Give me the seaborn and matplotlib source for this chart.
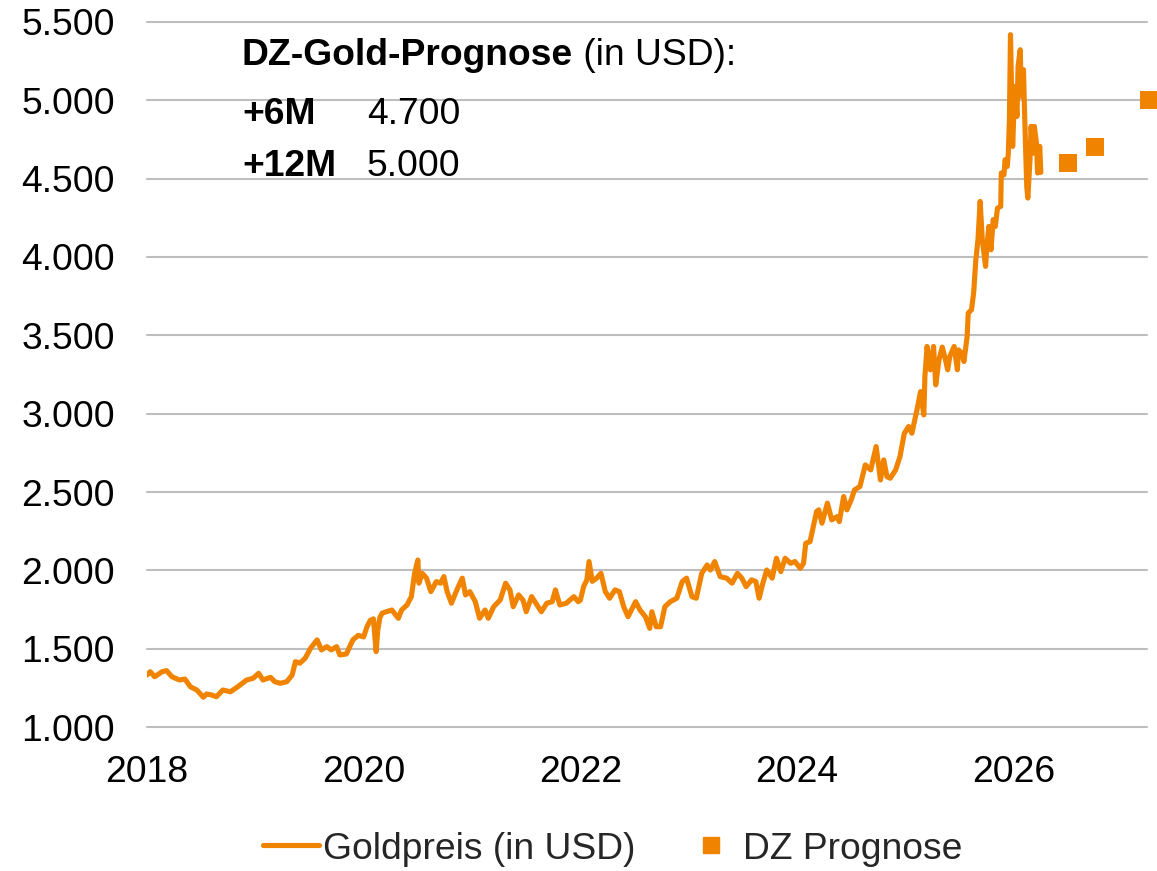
import matplotlib
matplotlib.use("Agg")
import matplotlib.pyplot as plt
import seaborn as sns
import pandas as pd
from matplotlib.ticker import FuncFormatter, FixedLocator
from matplotlib.lines import Line2D

# ---------------- data ----------------
dates = [
    2018.00, 2018.03, 2018.07, 2018.14, 2018.18, 2018.23, 2018.30, 2018.35, 2018.40, 2018.46,
    2018.52, 2018.55, 2018.60, 2018.64, 2018.70, 2018.77, 2018.83, 2018.92, 2018.98, 2019.03,
    2019.07, 2019.14, 2019.18, 2019.23, 2019.29, 2019.34, 2019.37, 2019.41, 2019.46, 2019.51,
    2019.57, 2019.61, 2019.66, 2019.70, 2019.75, 2019.78, 2019.84, 2019.90, 2019.95, 2020.00,
    2020.03, 2020.06, 2020.09, 2020.105, 2020.115, 2020.13, 2020.15, 2020.17, 2020.21, 2020.26,
    2020.32, 2020.35, 2020.40, 2020.44, 2020.47, 2020.50, 2020.51, 2020.54, 2020.58, 2020.62,
    2020.67, 2020.71, 2020.74, 2020.77, 2020.81, 2020.86, 2020.91, 2020.94, 2020.98, 2021.03,
    2021.07, 2021.12, 2021.15, 2021.20, 2021.26, 2021.31, 2021.35, 2021.38, 2021.43, 2021.47,
    2021.50, 2021.55, 2021.60, 2021.64, 2021.69, 2021.74, 2021.77, 2021.81, 2021.87, 2021.94,
    2021.98, 2022.00, 2022.03, 2022.06, 2022.08, 2022.11, 2022.15, 2022.19, 2022.23, 2022.27,
    2022.32, 2022.36, 2022.40, 2022.44, 2022.51, 2022.55, 2022.60, 2022.64, 2022.66, 2022.70,
    2022.74, 2022.78, 2022.83, 2022.89, 2022.94, 2022.98, 2023.03, 2023.07, 2023.12, 2023.17,
    2023.20, 2023.24, 2023.29, 2023.35, 2023.40, 2023.45, 2023.49, 2023.53, 2023.58, 2023.62,
    2023.65, 2023.68, 2023.72, 2023.77, 2023.81, 2023.85, 2023.89, 2023.94, 2023.98, 2024.03,
    2024.06, 2024.08, 2024.12, 2024.15, 2024.18, 2024.20, 2024.23, 2024.28, 2024.32, 2024.37,
    2024.39, 2024.43, 2024.46, 2024.50, 2024.53, 2024.58, 2024.63, 2024.68, 2024.73, 2024.77,
    2024.80, 2024.83, 2024.86, 2024.91, 2024.95, 2024.99, 2025.03, 2025.06, 2025.11, 2025.14,
    2025.17, 2025.18, 2025.20, 2025.23, 2025.26, 2025.28, 2025.31, 2025.34, 2025.37, 2025.39,
    2025.41, 2025.45, 2025.48, 2025.49, 2025.52, 2025.54, 2025.57, 2025.58, 2025.61, 2025.63,
    2025.65, 2025.67, 2025.69, 2025.71, 2025.74, 2025.75, 2025.77, 2025.79, 2025.81, 2025.83,
    2025.85, 2025.88, 2025.885, 2025.91, 2025.92, 2025.94, 2025.95, 2025.96, 2025.97, 2025.99,
    2026.01, 2026.03, 2026.04, 2026.06, 2026.07, 2026.09, 2026.10, 2026.12, 2026.13, 2026.15,
    2026.16, 2026.18, 2026.19, 2026.21, 2026.22, 2026.24, 2026.25,
]
gold_price = [
    1332, 1353, 1321, 1353, 1360, 1321, 1300, 1306, 1257, 1236,
    1190, 1211, 1204, 1193, 1236, 1225, 1253, 1300, 1311, 1343,
    1300, 1317, 1289, 1279, 1289, 1332, 1417, 1407, 1439, 1503,
    1556, 1492, 1513, 1492, 1513, 1460, 1466, 1556, 1585, 1575,
    1640, 1680, 1690, 1560, 1481, 1620, 1700, 1726, 1736, 1747,
    1694, 1747, 1779, 1832, 1981, 2066, 1918, 1981, 1950, 1864,
    1928, 1918, 1960, 1864, 1790, 1875, 1950, 1843, 1864, 1800,
    1694, 1747, 1694, 1768, 1811, 1918, 1875, 1768, 1843, 1811,
    1736, 1832, 1779, 1736, 1790, 1800, 1875, 1779, 1790, 1832,
    1800, 1810, 1896, 1939, 2056, 1930, 1950, 1981, 1864, 1822,
    1875, 1864, 1768, 1704, 1800, 1747, 1704, 1630, 1736, 1640,
    1640, 1768, 1800, 1822, 1928, 1950, 1832, 1822, 1981, 2034,
    2002, 2056, 1960, 1950, 1918, 1981, 1950, 1896, 1939, 1928,
    1822, 1907, 2002, 1950, 2077, 1992, 2077, 2045, 2056, 2013,
    2045, 2173, 2183, 2279, 2375, 2386, 2301, 2429, 2322, 2343,
    2311, 2471, 2386, 2450, 2513, 2535, 2673, 2641, 2790, 2577,
    2705, 2598, 2588, 2641, 2726, 2875, 2918, 2875, 3035, 3141,
    2992, 3237, 3429, 3280, 3429, 3184, 3344, 3425, 3344, 3280,
    3365, 3429, 3280, 3407, 3386, 3333, 3492, 3642, 3663, 3770,
    3982, 4110, 4355, 4110, 3940, 4046, 4195, 4046, 4238, 4195,
    4312, 4323, 4536, 4525, 4621, 4578, 4663, 4876, 5419, 4706,
    5089, 4897, 5217, 5323, 5025, 5196, 4919, 4450, 4376, 4621,
    4834, 4663, 4834, 4727, 4536, 4706, 4540,
]
forecast_dates = [2026.50, 2026.75, 2027.25]
forecast_values = [4600, 4700, 5000]

y_ticks = [1000, 1500, 2000, 2500, 3000, 3500, 4000, 4500, 5000, 5500]
x_ticks = [2018, 2020, 2022, 2024, 2026]
x_tick_labels = ["2018", "2020", "2022", "2024", "2026"]

series_label = "Goldpreis (in USD)"
forecast_label = "DZ Prognose"
box_title_bold = "DZ-Gold-Prognose"
box_title_rest = " (in USD):"
box_rows = [("+6M", "4.700"), ("+12M", "5.000")]

# ---------------- style ----------------
sns.set_theme(style="white")
plt.rcParams["font.family"] = ["Liberation Sans", "DejaVu Sans"]
ORANGE = "#F08300"
GRID = "#BEBEBE"
FS = 26.8

W, H = 1157, 871
fig = plt.figure(figsize=(W / 100, H / 100), dpi=100)
ax_left, ax_right, ax_top, ax_bottom = 147, 1147, 22, 727
ax = fig.add_axes([ax_left / W, 1 - ax_bottom / H, (ax_right - ax_left) / W, (ax_bottom - ax_top) / H])

df = pd.DataFrame({"Datum": dates, "Preis": gold_price})
fc = pd.DataFrame({"Datum": forecast_dates, "Preis": forecast_values})

sns.lineplot(data=df, x="Datum", y="Preis", ax=ax, color=ORANGE, linewidth=3.7,
             errorbar=None, legend=False, zorder=3)
sns.scatterplot(data=fc, x="Datum", y="Preis", ax=ax, color=ORANGE, marker="s",
                s=150, linewidth=0, legend=False, zorder=4, clip_on=False)

ax.set_xlim(2018, 2027.23)
ax.set_ylim(1000, 5500)
ax.yaxis.set_major_locator(FixedLocator(y_ticks))
ax.yaxis.set_major_formatter(FuncFormatter(lambda v, p: f"{v:,.0f}".replace(",", ".")))
ax.set_xticks(x_ticks)
ax.set_xticklabels(x_tick_labels)
ax.set_xlabel("")
ax.set_ylabel("")
for s in ax.spines.values():
    s.set_visible(False)
ax.grid(axis="y", color=GRID, linewidth=1.5)
ax.grid(axis="x", visible=False)
ax.tick_params(axis="y", length=0, pad=23, labelsize=FS, labelcolor="black")
ax.tick_params(axis="x", length=0, pad=20, labelsize=FS, labelcolor="black")
for gl in ax.yaxis.get_gridlines():
    gl.set_clip_on(False)

# annotation box
tx = (242 - ax_left) / (ax_right - ax_left)
tx2 = (367 - ax_left) / (ax_right - ax_left)
def fy(px):
    return (ax_bottom - px) / (ax_bottom - ax_top)
t1 = ax.text(tx, fy(65), box_title_bold, transform=ax.transAxes, fontsize=FS,
             fontweight="bold", va="baseline", ha="left", color="black")
ax.annotate(box_title_rest, xy=(1, 0), xycoords=t1, xytext=(0, 0), textcoords="offset points",
            fontsize=FS, va="bottom", ha="left", color="black")
for (lab, val), ypx in zip(box_rows, [124, 176]):
    ax.text(tx, fy(ypx), lab, transform=ax.transAxes, fontsize=FS, fontweight="bold",
            va="baseline", ha="left", color="black")
    ax.text(tx2, fy(ypx), val, transform=ax.transAxes, fontsize=FS,
            va="baseline", ha="left", color="black")

# legend
handles = [
    Line2D([], [], color=ORANGE, linewidth=3.7),
    Line2D([], [], color=ORANGE, marker="s", markersize=11.5, linestyle="none"),
]
fig.legend(handles, [series_label, forecast_label], loc="center left",
           bbox_to_anchor=(263 / W, 1 - 849 / H), ncol=2, frameon=False,
           fontsize=FS, handlelength=1.5, handletextpad=0.1, columnspacing=1.3,
           borderpad=0, borderaxespad=0)

fig.savefig("out.png", dpi=100)
